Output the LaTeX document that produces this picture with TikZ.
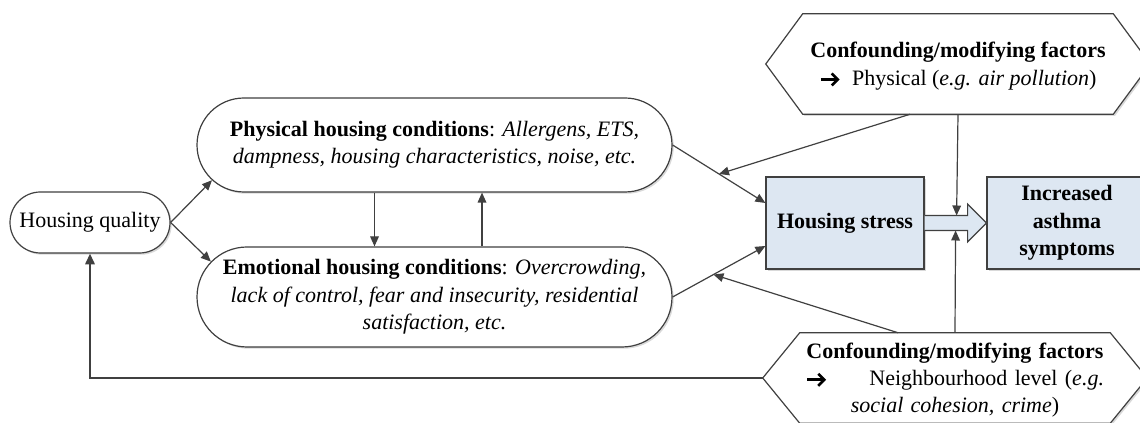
\documentclass[tikz,border=0pt]{standalone}
\usepackage{fontspec}
\setmainfont{Liberation Serif}
\usetikzlibrary{arrows.meta,calc,shapes.misc,shadows}
\definecolor{linecol}{HTML}{404040}
\definecolor{boxblue}{HTML}{DDE7F2}
\newcommand{\bodyfont}{\fontsize{16.5}{20.5}\selectfont}
% bold chevron-headed arrow used inside the factor boxes
\newcommand{\fatarrow}{\tikz[baseline=-0.55ex, x=1pt, y=1pt]
  \draw[black, line width=2.2pt, -{Straight Barb[length=4.5pt, width=9pt, line width=2pt]}] (0,0) -- (14,0);}
\tikzset{
  ln/.style={draw=linecol, line width=0.9pt},
  arr/.style={ln, -{Triangle[length=7.5pt,width=6.5pt]}},
  softshadow/.style={drop shadow={shadow xshift=1.3pt, shadow yshift=-1.3pt, fill=black, opacity=0.15}},
  stadium/.style={rounded rectangle, ln, fill=white, softshadow, align=center,
    font=\bodyfont, inner sep=0pt},
  bluebox/.style={rectangle, ln, fill=boxblue, softshadow, align=center,
    font=\bodyfont\bfseries, inner sep=0pt},
  hexlabel/.style={rectangle, inner sep=0pt, align=center, font=\bodyfont},
  hexline/.style={ln, fill=white, softshadow},
}
\begin{document}
\begin{tikzpicture}[x=0.75pt, y=-0.75pt]
\clip (0,0) rectangle (1140,423);

% left-hand nodes
\node[stadium, minimum width=120pt, minimum height=45.75pt] (hq) at (90,222.5) {Housing quality};
\node[stadium, minimum width=356.25pt, minimum height=70.5pt] (phys) at (434.5,145)
  {\textbf{Physical housing conditions}: \textit{Allergens, ETS,}\\
   \textit{dampness, housing characteristics, noise, etc.}};
\node[stadium, minimum width=356.25pt, minimum height=75pt] (emo) at (434.5,297)
  {\textbf{Emotional housing conditions}: \textit{Overcrowding,}\\
   \textit{lack of control, fear and insecurity, residential}\\
   \textit{satisfaction, etc.}};

% outcome boxes
\node[bluebox, minimum width=118.5pt, minimum height=69pt] (stress) at (845,223) {Housing stress};
\node[bluebox, minimum width=120pt, minimum height=69pt] (incr) at (1067,223) {Increased\\asthma\\symptoms};

% hexagonal factor boxes
\node[hexlabel, minimum width=288pt, minimum height=75pt] (conf1) at (958,64) {};
\draw[hexline] (conf1.west) -- ($(conf1.north west)+(37,0)$) -- ($(conf1.north east)+(-37,0)$)
  -- (conf1.east) -- ($(conf1.south east)+(-37,0)$) -- ($(conf1.south west)+(37,0)$) -- cycle;
\node[hexlabel] at ($(conf1.center)+(0,2)$)
  {\textbf{Confounding/modifying factors}\\ \fatarrow\ \ Physical (\textit{e.g. air pollution})};

\node[hexlabel, minimum width=288pt, minimum height=67.5pt] (conf2) at (955,378) {};
\draw[hexline] (conf2.west) -- ($(conf2.north west)+(37,0)$) -- ($(conf2.north east)+(-37,0)$)
  -- (conf2.east) -- ($(conf2.south east)+(-37,0)$) -- ($(conf2.south west)+(37,0)$) -- cycle;
\node[hexlabel, text width=223.5pt] at ($(conf2.center)+(0,2)$)
  {\centering\textbf{Confounding/modifying factors}\\
   \leavevmode\hbox to \linewidth{\fatarrow\hfill Neighbourhood level (\textit{e.g.}}\\
   \textit{social cohesion, crime})\par};

% fat arrow between stress and symptoms
\draw[ln, fill=boxblue] ($(stress.east)+(0,-7.5)$) -- ($(stress.east)+(43,-7.5)$)
  -- ($(stress.east)+(43,-19)$) -- (incr.west) -- ($(stress.east)+(43,19)$)
  -- ($(stress.east)+(43,7.5)$) -- ($(stress.east)+(0,7.5)$);
\coordinate (fattop) at ($(stress.east)+(32,-7.5)$);
\coordinate (fatbot) at ($(stress.east)+(31,7.5)$);

% connectors
\draw[arr] (hq.east) -- (phys.189);
\draw[arr] (hq.east) -- (emo.171);
\draw[arr] ($(phys.south)+(-60,0)$) -- ($(emo.north)+(-60,0)$);
\draw[arr] ($(emo.north)+(47.5,0)$) -- ($(phys.south)+(47.5,0)$);

\coordinate (stressin1) at ($(stress.west)+(0,-20)$);
\coordinate (stressin2) at ($(stress.west)+(0,23)$);
\draw[arr] (phys.east) -- (stressin1) coordinate[pos=0.5] (mid1);
\draw[arr] (emo.east) -- (stressin2) coordinate[pos=0.44] (mid2);

\draw[arr] ($(conf1.south)+(-48,0)$) -- (mid1);
\draw[arr] ($(conf2.north)+(-57,0)$) -- (mid2);
\draw[arr] (conf1.south) -- (fattop);
\draw[arr] (conf2.north) -- (fatbot);

% feedback to housing quality
\draw[ln, line width=1.5pt, -{Triangle[length=8pt,width=7pt]}] (conf2.west) -| (hq.south);
\end{tikzpicture}
\end{document}
